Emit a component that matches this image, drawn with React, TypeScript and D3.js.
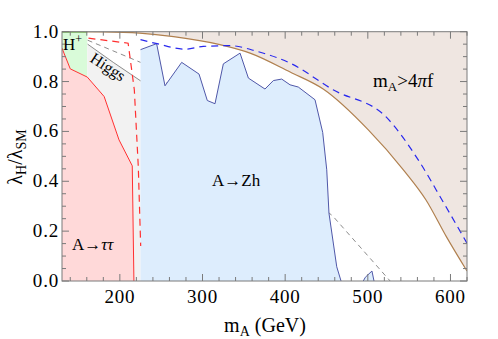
import React from "react";
import * as d3 from "d3";

// ---- data ----
const tauX = [130, 140, 160.6, 181, 199, 215, 217];
const tauY = [0.934, 0.851, 0.818, 0.74, 0.566, 0.462, 0];

const chargedX = [130, 160.6];
const chargedTop = [1.0, 1.0];

const redDashX = [162, 210, 217.5, 222.3, 225.2];
const redDashY = [0.974, 0.954, 0.767, 0.459, 0.14];

const higgsSolidX = [161, 192, 225];
const higgsSolidY = [0.95, 0.877, 0.803];

const grayDashX = [161, 225, 457.5, 527];
const grayDashY = [0.966, 0.877, 0.261, 0];

const zhX = [225, 244.5, 254.6, 274.8, 295.8, 305.8, 315.1, 325.2, 345.4, 355.5, 375.6, 385.7, 395.8, 405.9, 415.9, 436.1, 445.4, 450.3, 453.0, 462.4, 467.6];
const zhY = [0.928, 0.952, 0.783, 0.877, 0.83, 0.724, 0.711, 0.871, 0.914, 0.814, 0.77, 0.804, 0.81, 0.787, 0.778, 0.727, 0.596, 0.446, 0.272, 0.057, 0];

const zh2X = [494.5, 497, 505, 507.5];
const zh2Y = [0, 0.015, 0.04, 0];

const pertX = [130, 180, 224, 265, 321, 357.5, 406, 446, 500.6, 543, 570.4, 595, 620];
const pertY = [1.0, 0.999, 0.994, 0.98, 0.948, 0.914, 0.838, 0.77, 0.606, 0.446, 0.325, 0.178, 0.04];

const blueDashX = [225, 245, 279, 301, 333, 366, 406, 458, 523, 561, 591, 622];
const blueDashY = [0.968, 0.952, 0.93, 0.941, 0.944, 0.921, 0.874, 0.767, 0.655, 0.486, 0.318, 0.14];

const xMajor = [200, 300, 400, 500, 600];
const yMajor = [0, 0.2, 0.4, 0.6, 0.8, 1.0];
const yLabels = ["0.0", "0.2", "0.4", "0.6", "0.8", "1.0"];

const W = 498, H = 339;
const L = 62, R = 467, T = 31.7, B = 281;

export default function App() {
  const x = d3.scaleLinear().domain([130, 620]).range([L, R]);
  const y = d3.scaleLinear().domain([0, 1]).range([B, T]);
  const pts = (xs: number[], ys: number[]) => xs.map((v, i) => [v, ys[i]] as [number, number]);
  const line = d3.line<[number, number]>().x(d => x(d[0])).y(d => y(d[1]));
  const smooth = d3.line<[number, number]>().x(d => x(d[0])).y(d => y(d[1])).curve(d3.curveMonotoneX);

  const tau = pts(tauX, tauY);
  const tauPoly = [...tau, [130, 0] as [number, number]];
  const green: [number, number][] = [
    [chargedX[0], chargedTop[0]], [chargedX[1], chargedTop[1]], [160.6, 0.818], [140, 0.851], [130, 0.934]
  ];
  const grayPoly: [number, number][] = [
    [160.6, 0.95], [192, 0.877], [225, 0.803], [225, 0], [217, 0], [215, 0.462], [199, 0.566], [181, 0.74], [160.6, 0.818]
  ];
  const zh = pts(zhX, zhY);
  const zhPoly = [[225, 0] as [number, number], ...zh];
  const zh2 = pts(zh2X, zh2Y);
  const pert = pts(pertX, pertY);
  const pertArea = d3.area<[number, number]>().x(d => x(d[0])).y0(y(1)).y1(d => y(d[1])).curve(d3.curveMonotoneX);

  const xMinor = d3.range(140, 621, 20);
  const yMinor = d3.range(0, 1.001, 0.05);
  const frame = "#7a7a7a";
  const font = "'Liberation Serif', 'Times New Roman', serif";

  return (
    <svg width={W} height={H} style={{ position: "absolute", left: 0, top: 0, background: "#fff" }} fontFamily={font}>
      <defs>
        <clipPath id="plot"><rect x={L} y={T} width={R - L} height={B - T} /></clipPath>
      </defs>
      <g clipPath="url(#plot)">
        <path d={pertArea(pert) || ""} fill="#efe6e1" />
        <path d={line(tauPoly) + "Z"} fill="#ffd9d9" />
        <path d={line(green) + "Z"} fill="#d9fbd9" />
        <path d={line(grayPoly) + "Z"} fill="#f2f2f2" />
        <path d={line(pts(grayDashX, grayDashY)) || ""} fill="none" stroke="#8c8c8c" strokeWidth={1} strokeDasharray="5,4" />
        <path d={line(zhPoly) + "Z"} fill="#ddedfd" />
        <path d={line(zh2) + "Z"} fill="#ddedfd" />
        <path d={line(zh) || ""} fill="none" stroke="#4f57a8" strokeWidth={1} />
        <path d={line(zh2) || ""} fill="none" stroke="#4f57a8" strokeWidth={1} />
        <path d={line(pts(higgsSolidX, higgsSolidY)) || ""} fill="none" stroke="#8c8c8c" strokeWidth={1} />
        <path d={line(pts(chargedX, chargedTop)) || ""} fill="none" stroke="#33cc33" strokeWidth={1.5} />
        <path d={line(tau) || ""} fill="none" stroke="#ff3030" strokeWidth={1} />
        <path d={line(pts(redDashX, redDashY)) || ""} fill="none" stroke="#ff3030" strokeWidth={1.2} strokeDasharray="7,5" />
        <path d={smooth(pert) || ""} fill="none" stroke="#b0804f" strokeWidth={1.2} />
        <path d={smooth(pts(blueDashX, blueDashY)) || ""} fill="none" stroke="#2828ee" strokeWidth={1.2} strokeDasharray="7,5" />
      </g>
      {/* frame */}
      <rect x={L} y={T} width={R - L} height={B - T} fill="none" stroke={frame} strokeWidth={1} />
      {/* ticks */}
      {xMinor.map(v => {
        const major = xMajor.includes(v);
        const len = major ? 7 : 4;
        return (
          <g key={"xt" + v}>
            <line x1={x(v)} x2={x(v)} y1={B} y2={B - len} stroke={frame} />
            <line x1={x(v)} x2={x(v)} y1={T} y2={T + len} stroke={frame} />
          </g>
        );
      })}
      {yMinor.map((v, i) => {
        const major = i % 4 === 0;
        const len = major ? 7 : 4;
        return (
          <g key={"yt" + i}>
            <line x1={L} x2={L + len} y1={y(v)} y2={y(v)} stroke={frame} />
            <line x1={R} x2={R - len} y1={y(v)} y2={y(v)} stroke={frame} />
          </g>
        );
      })}
      {xMajor.map(v => (
        <text key={"xl" + v} x={x(v)} y={303} textAnchor="middle" fontSize={19} letterSpacing={0.8} fill="#000">{v}</text>
      ))}
      {yMajor.map((v, i) => (
        <text key={"yl" + v} x={59} y={y(v) + 6} textAnchor="end" fontSize={19} letterSpacing={0.8} fill="#000">{yLabels[i]}</text>
      ))}
      {/* axis titles */}
      <text x={265} y={332} textAnchor="middle" fontSize={20} fill="#000">
        m<tspan fontSize={14} dy={4}>A</tspan><tspan dy={-4}> (GeV)</tspan>
      </text>
      <text transform="translate(21.5,157) rotate(-90)" textAnchor="middle" fontSize={20} fill="#000">
        λ<tspan fontSize={14} dy={4}>H</tspan><tspan dy={-4}>/λ</tspan><tspan fontSize={14} dy={4}>SM</tspan>
      </text>
      {/* region labels */}
      <text x={63} y={50} fontSize={17} fill="#000">H<tspan fontSize={12} dy={-7}>+</tspan></text>
      <text transform="translate(89,61) rotate(33)" fontSize={16} fill="#000">Higgs</text>
      <text x={373} y={87} fontSize={19} fill="#000">m<tspan fontSize={13} dy={4}>A</tspan><tspan dy={-4}>&gt;4</tspan><tspan fontStyle="italic">π</tspan>f</text>
      <text x={212} y={186} fontSize={17} fill="#000">A→Zh</text>
      <text x={72} y={250} fontSize={17} fill="#000">A→<tspan fontStyle="italic">ττ</tspan></text>
    </svg>
  );
}
